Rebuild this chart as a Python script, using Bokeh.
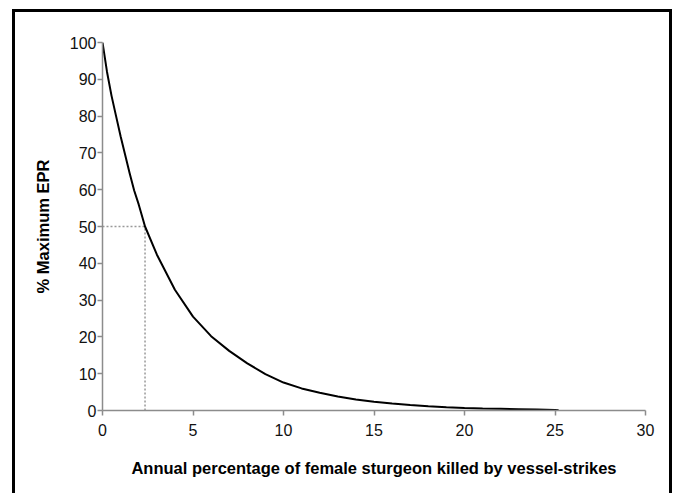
from bokeh.plotting import figure
from bokeh.models import Range1d, FixedTicker
from bokeh.embed import file_html
from bokeh.resources import INLINE

# Data
mortality_pct = [0, 0.25, 0.5, 0.75, 1.0, 1.25, 1.5, 1.75, 2.0, 2.35, 3, 4, 5, 6, 7, 8, 9, 10,
                 11, 12, 13, 14, 15, 16, 17, 18, 19, 20, 21, 22, 23, 24, 25, 25.2]
max_epr_pct = [100, 92, 85.5, 80, 74.5, 69.5, 64.5, 59.8, 56, 50, 42.4, 32.8, 25.5, 20.2, 16.2,
               12.8, 9.9, 7.6, 6.0, 4.8, 3.8, 3.0, 2.4, 1.9, 1.5, 1.15, 0.9, 0.7, 0.55, 0.45,
               0.35, 0.25, 0.15, 0.1]
half_x = 2.35
half_y = 50
x_ticks = [0, 5, 10, 15, 20, 25, 30]
y_ticks = [0, 10, 20, 30, 40, 50, 60, 70, 80, 90, 100]

FONT = "Liberation Sans"

p = figure(width=660, height=484, output_backend="svg", toolbar_location=None,
           x_range=Range1d(0, 30), y_range=Range1d(0, 100),
           min_border_left=87, min_border_right=30, min_border_top=30, min_border_bottom=86)
p.styles = {"border": "3px solid black", "border-bottom": "none",
            "margin-left": "12px", "margin-top": "9px"}
p.outline_line_color = None
p.grid.grid_line_color = None
p.background_fill_color = "white"
p.border_fill_color = "white"

for ax in (p.xaxis, p.yaxis):
    ax.axis_line_color = "#8c8c8c"
    ax.axis_line_width = 1.5
    ax.major_tick_line_color = "#8c8c8c"
    ax.major_tick_line_width = 1.5
    ax.major_tick_out = 5
    ax.major_tick_in = 0
    ax.minor_tick_line_color = None
    ax.major_label_text_font = FONT
    ax.major_label_text_font_size = "16px"
    ax.major_label_text_color = "#111111"
    ax.axis_label_text_font = FONT
    ax.axis_label_text_font_size = "16.5px"
    ax.axis_label_text_font_style = "bold"
    ax.axis_label_text_color = "black"

p.xaxis.ticker = FixedTicker(ticks=x_ticks)
p.yaxis.ticker = FixedTicker(ticks=y_ticks)
p.xaxis.major_label_standoff = 8
p.yaxis.major_label_standoff = 1
p.xaxis.axis_label = "Annual percentage of female sturgeon killed by vessel-strikes"
p.yaxis.axis_label = "% Maximum EPR"
p.xaxis.axis_label_standoff = 20
p.yaxis.axis_label_standoff = 15

p.line([0, half_x], [half_y, half_y], line_color="#999999", line_width=1.5, line_dash="2 2")
p.line([half_x, half_x], [0, half_y], line_color="#999999", line_width=1.5, line_dash="2 2")
p.line(mortality_pct, max_epr_pct, line_color="black", line_width=2)

open("out.html", "w").write(file_html(p, INLINE))
